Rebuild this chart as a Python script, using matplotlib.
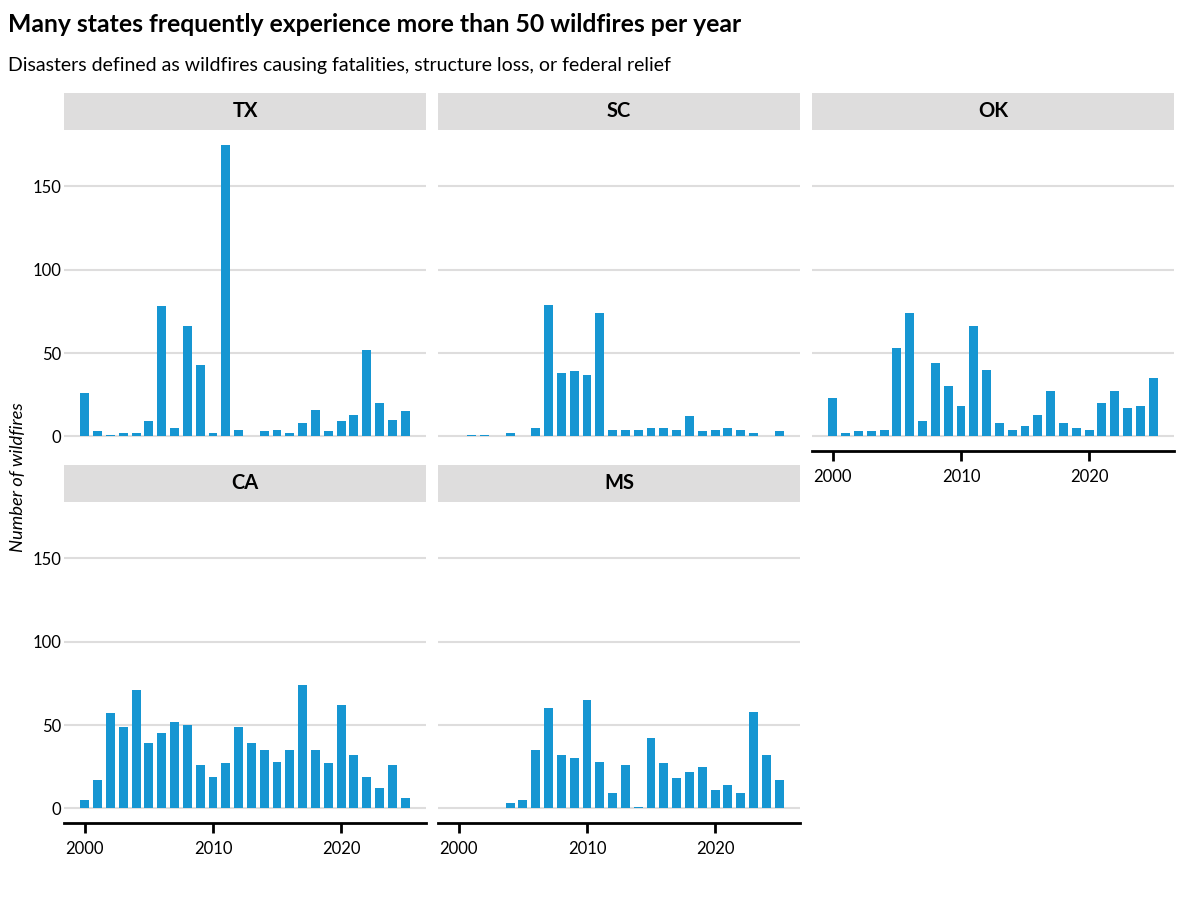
import matplotlib
matplotlib.use("Agg")
import matplotlib.pyplot as plt
import numpy as np

plt.rcParams['font.family'] = ['Lato', 'DejaVu Sans']

years = list(range(2000, 2026))
states = ["TX", "SC", "OK", "CA", "MS"]

tx = [26, 3, 1, 2, 2, 9, 78, 5, 66, 43, 2, 175, 4, 0, 3, 4, 2, 8, 16, 3, 9, 13, 52, 20, 10, 15]
sc = [0, 1, 1, 0, 2, 0, 5, 79, 38, 39, 37, 74, 4, 4, 4, 5, 5, 4, 12, 3, 4, 5, 4, 2, 0, 3]
ok = [23, 2, 3, 3, 4, 53, 74, 9, 44, 30, 18, 66, 40, 8, 4, 6, 13, 27, 8, 5, 4, 20, 27, 17, 18, 35]
ca = [5, 17, 57, 49, 71, 39, 45, 52, 50, 26, 19, 27, 49, 39, 35, 28, 35, 74, 35, 27, 62, 32, 19, 12, 26, 6]
ms = [0, 0, 0, 0, 3, 5, 35, 60, 32, 30, 65, 28, 9, 26, 0.6, 42, 27, 18, 22, 25, 11, 14, 9, 58, 32, 17]

values = {"TX": tx, "SC": sc, "OK": ok, "CA": ca, "MS": ms}
yticks = [0, 50, 100, 150]
xticks = [2000, 2010, 2020]

title = "Many states frequently experience more than 50 wildfires per year"
subtitle = "Disasters defined as wildfires causing fatalities, structure loss, or federal relief"
ylabel = "Number of wildfires"

BLUE = "#1696d2"
GRAY = "#dedddd"

W, H = 1200, 900
fig = plt.figure(figsize=(12, 9), dpi=100)

col_x = [64, 438, 812]
col_w = 362
row_top = [130, 502]
plot_h = 321
strip_h = 37.5

positions = {"TX": (0, 0), "SC": (0, 1), "OK": (0, 2), "CA": (1, 0), "MS": (1, 1)}
bottom_axis = {"OK", "CA", "MS"}

for st in states:
    r, c = positions[st]
    x0 = col_x[c]
    y0 = row_top[r]
    ax = fig.add_axes([x0 / W, 1 - (y0 + plot_h) / H, col_w / W, plot_h / H])
    ax.bar(years, values[st], width=0.7, color=BLUE, zorder=3)
    ax.set_xlim(1998.365, 2026.635)
    ax.set_ylim(-8.75, 183.75)
    ax.set_yticks(yticks)
    for yv in yticks:
        ax.axhline(yv, color=GRAY, lw=1.5, zorder=1)
    for s in ["top", "right", "left"]:
        ax.spines[s].set_visible(False)
    ax.tick_params(axis='y', length=0, labelsize=12, pad=2, colors="black")
    if c != 0:
        ax.set_yticklabels([])
    ax.set_xticks(xticks)
    if st in bottom_axis:
        ax.spines["bottom"].set_color("black")
        ax.spines["bottom"].set_linewidth(2)
        ax.tick_params(axis='x', length=7, width=2, labelsize=12, pad=6, colors="black")
    else:
        ax.spines["bottom"].set_visible(False)
        ax.tick_params(axis='x', length=0, labelbottom=False)
    # strip
    sax = fig.add_axes([x0 / W, 1 - y0 / H, col_w / W, strip_h / H])
    sax.set_facecolor(GRAY)
    sax.set_xticks([])
    sax.set_yticks([])
    for s in sax.spines.values():
        s.set_visible(False)
    sax.text(0.5, 0.5, st, ha="center", va="center", fontsize=14.5, fontweight="bold",
             transform=sax.transAxes)

fig.text(8 / W, 1 - 25 / H, title, ha="left", va="center", fontsize=17.8, fontweight="bold")
fig.text(8 / W, 1 - 65 / H, subtitle, ha="left", va="center", fontsize=14)
fig.text(18 / W, 1 - 477 / H, ylabel, ha="center", va="center", rotation=90,
         fontsize=13.2, fontstyle="italic")

fig.savefig("out.png", dpi=100)
